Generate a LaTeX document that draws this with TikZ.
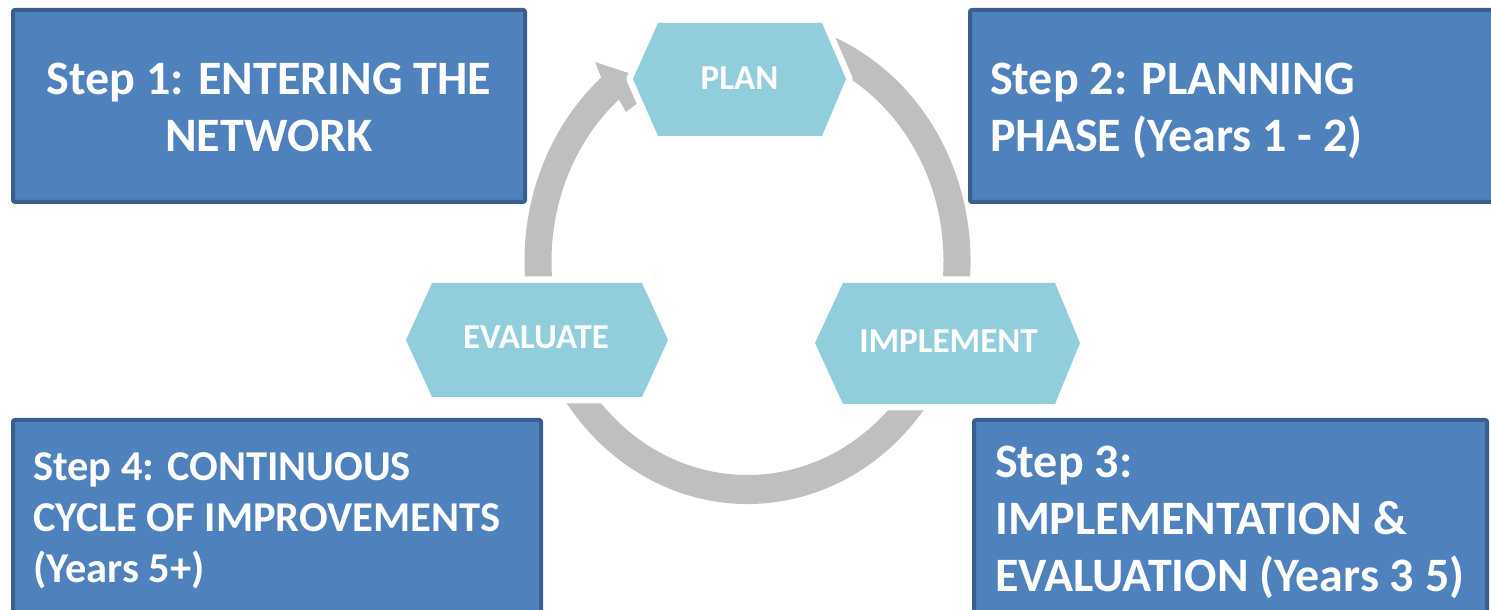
\documentclass[tikz,border=0pt]{standalone}
\usepackage{fontspec}
\setmainfont{Carlito}
\usetikzlibrary{calc}
\definecolor{boxblue}{HTML}{4F81BD}
\definecolor{boxedge}{HTML}{3A5F8C}
\definecolor{hexblue}{HTML}{92CDDC}
\definecolor{ringgray}{HTML}{BFBFBF}
\begin{document}
\begin{tikzpicture}[x=1pt,y=1pt,
  stepbox/.style={fill=boxblue, draw=boxedge, line width=4pt, rounded corners=2pt},
  steptext/.style={text=white, font=\bfseries\fontsize{48}{57}\selectfont, inner sep=0pt},
  smalltext/.style={text=white, font=\bfseries\fontsize{42.5}{51}\selectfont, inner sep=0pt},
  hexshape/.style={fill=hexblue},
  hexhalo/.style={fill=white, draw=white, line width=13pt, line join=round},
  hextext/.style={text=white, font=\bfseries\fontsize{35}{42}\selectfont, inner sep=0pt, anchor=base}]
\useasboundingbox (0,0) rectangle (1491,610);
\clip (0,0) rectangle (1491,610);
\fill[white] (0,0) rectangle (1491,610);
% step boxes
\draw[stepbox] (13,600) rectangle (525,408);
\draw[stepbox] (970,600) rectangle (1500,408);
\draw[stepbox] (974,190) rectangle (1487,-10);
\draw[stepbox] (13,190) rectangle (541,-10);
% circular arrow
\coordinate (C) at (747.5,349);
\fill[ringgray] ($(C)+(100:223 and 243)$)
  arc[start angle=100, end angle=-229, x radius=223, y radius=243]
  -- (595,548) -- (662,526) -- (626,498)
  -- ($(C)+(-229:196 and 214)$)
  arc[start angle=-229, end angle=100, x radius=196, y radius=214] -- cycle;
% hexagons
\foreach \st in {hexhalo,hexshape}{
  \path[\st] (633,531) -- (658,587) -- (822,587) -- (846,531) -- (822,474) -- (658,474) -- cycle;
  \path[\st] (406,270) -- (432,327) -- (642,327) -- (668,270) -- (642,213) -- (432,213) -- cycle;
  \path[\st] (815,267) -- (843,327) -- (1055,327) -- (1080,267) -- (1055,206) -- (843,206) -- cycle;
}
\node[hextext] (plan) at (739.5,520) {PLAN};
\node[hextext] (evaluate) at (536,261) {EVALUATE};
\node[hextext] (implement) at (948.5,257) {IMPLEMENT};
% step texts (base anchor = last line's baseline)
\node[steptext, align=center, anchor=base] (s1) at (269,458) {Step 1: ENTERING THE\\NETWORK};
\node[steptext, align=left, anchor=base west] (s2) at (990,458) {Step 2: PLANNING\\PHASE (Years 1 - 2)};
\node[steptext, align=left, anchor=base west] (s3) at (995,18) {Step 3:\\IMPLEMENTATION \&\\EVALUATION (Years 3 5)};
\node[smalltext, align=left, anchor=base west] (s4) at (33,27) {Step 4: CONTINUOUS\\CYCLE OF IMPROVEMENTS\\(Years 5+)};
\end{tikzpicture}
\end{document}
